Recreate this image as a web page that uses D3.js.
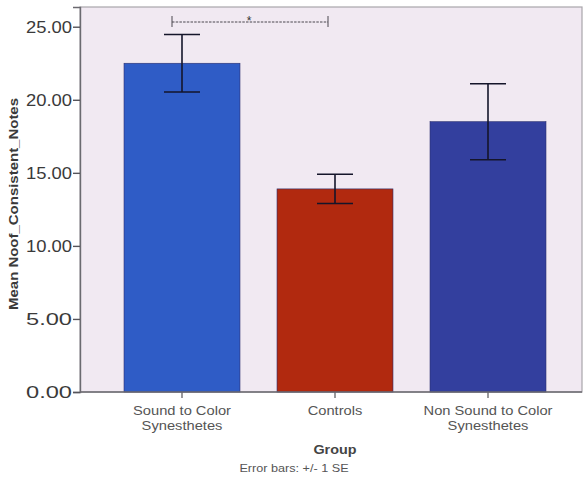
<!DOCTYPE html>
<html>
<head>
<meta charset="utf-8">
<script src="https://cdn.jsdelivr.net/npm/d3@7"></script>
<style>
  body { margin: 0; background: #fff; }
  svg text { font-family: Arial, "Liberation Sans", sans-serif; }
</style>
</head>
<body>
<div id="chart"></div>
<script>
// group means with +/- 1 SE
const groups = ["Sound to Color Synesthetes", "Controls", "Non Sound to Color Synesthetes"];
const means = [22.5, 13.9, 18.5];
const errors = [1.97, 1.0, 2.6];
const barColors = ["#2f5cc6", "#b1290f", "#333f9e"];
const yTicks = [0, 5, 10, 15, 20, 25];
// significance bracket between groups 0 and 1
const sigPair = [0, 1];
const sigLabel = "*";

const width = 583, height = 477;
const plot = {left: 80, right: 582, top: 7, bottom: 392};

const svg = d3.select("#chart").append("svg")
    .attr("width", width)
    .attr("height", height);

const x = d3.scaleBand()
    .domain(groups)
    .range([105.5, 564.5])
    .paddingInner(0.242)
    .paddingOuter(0.121);

const y = d3.scaleLinear()
    .domain([0, 26.35])
    .range([plot.bottom, plot.top]);

// plot background
svg.append("rect")
    .attr("x", plot.left)
    .attr("y", plot.top)
    .attr("width", plot.right - plot.left)
    .attr("height", plot.bottom - plot.top)
    .attr("fill", "#f1e9f2")
    .attr("stroke", "#a9a6ab")
    .attr("stroke-width", 1.2);

// bars
svg.append("g")
  .selectAll("rect")
  .data(groups)
  .join("rect")
    .attr("x", d => x(d))
    .attr("y", (d, i) => y(means[i]))
    .attr("width", x.bandwidth())
    .attr("height", (d, i) => y(0) - y(means[i]))
    .attr("fill", (d, i) => barColors[i])
    .attr("stroke", "#2a2f70")
    .attr("stroke-width", 0.6);

// error bars
const cap = 18;
const eb = svg.append("g")
    .attr("stroke", "#15152a")
    .attr("stroke-width", 1.6)
  .selectAll("g")
  .data(groups)
  .join("g")
    .attr("transform", d => `translate(${x(d) + x.bandwidth() / 2},0)`);

eb.append("line")
    .attr("y1", (d, i) => y(means[i] + errors[i]))
    .attr("y2", (d, i) => y(means[i] - errors[i]));
eb.append("line")
    .attr("x1", -cap).attr("x2", cap)
    .attr("y1", (d, i) => y(means[i] + errors[i]))
    .attr("y2", (d, i) => y(means[i] + errors[i]));
eb.append("line")
    .attr("x1", -cap).attr("x2", cap)
    .attr("y1", (d, i) => y(means[i] - errors[i]))
    .attr("y2", (d, i) => y(means[i] - errors[i]));

// significance bracket
const bx0 = x(groups[sigPair[0]]) + x.bandwidth() / 2 - 10;
const bx1 = x(groups[sigPair[1]]) + x.bandwidth() / 2 - 7;
const by = 22;
const br = svg.append("g").attr("stroke", "#4a474f").attr("stroke-width", 1);
br.append("line").attr("x1", bx0).attr("x2", bx1).attr("y1", by).attr("y2", by)
    .attr("stroke-dasharray", "2.5,1.2");
br.append("line").attr("x1", bx0).attr("x2", bx0).attr("y1", by - 6).attr("y2", by + 5);
br.append("line").attr("x1", bx1).attr("x2", bx1).attr("y1", by - 6).attr("y2", by + 5);
svg.append("text")
    .attr("x", (bx0 + bx1) / 2 - 1)
    .attr("y", by + 3)
    .attr("text-anchor", "middle")
    .attr("font-size", 12)
    .attr("fill", "#333")
    .text(sigLabel);

// y axis
const yAxis = svg.append("g")
    .attr("transform", `translate(${plot.left},0)`)
    .call(d3.axisLeft(y).tickValues(yTicks).tickFormat(d3.format(".2f")).tickSize(7).tickPadding(1));
yAxis.select(".domain").attr("stroke", "#6b6a70").attr("stroke-width", 1.4);
yAxis.selectAll(".tick line").attr("stroke", "#55545a").attr("stroke-width", 1.4);
yAxis.selectAll(".tick text")
    .attr("font-size", 16.5)
    .attr("fill", "#3a3a3a")
    .attr("font-family", "Arial, 'Liberation Sans', sans-serif")
    .attr("textLength", 46)
    .attr("lengthAdjust", "spacingAndGlyphs");

// x axis
const xAxis = svg.append("g")
    .attr("transform", `translate(0,${plot.bottom})`)
    .call(d3.axisBottom(x).tickSize(6).tickFormat(""));
xAxis.select(".domain").remove();
xAxis.selectAll(".tick line").attr("stroke", "#55545a").attr("stroke-width", 1.2);
svg.append("line")
    .attr("x1", plot.left).attr("x2", plot.right)
    .attr("y1", plot.bottom).attr("y2", plot.bottom)
    .attr("stroke", "#6b6a70").attr("stroke-width", 1.4);

// wrapped category labels
const labelLines = {
  "Sound to Color Synesthetes": ["Sound to Color", "Synesthetes"],
  "Controls": ["Controls"],
  "Non Sound to Color Synesthetes": ["Non Sound to Color", "Synesthetes"]
};
xAxis.selectAll(".tick").each(function(d) {
  const t = d3.select(this).append("text")
      .attr("y", 23)
      .attr("transform", "scale(1.13,1)")
      .attr("text-anchor", "middle")
      .attr("font-size", 13)
      .attr("fill", "#555");
  labelLines[d].forEach((s, k) => {
    t.append("tspan").attr("x", 0).attr("dy", k === 0 ? 0 : 15).text(s);
  });
});

// axis titles
svg.append("text")
    .attr("transform", `translate(${x(groups[1]) + x.bandwidth() / 2},454) scale(1.15,1)`)
    .attr("text-anchor", "middle")
    .attr("font-size", 12.5)
    .attr("font-weight", "bold")
    .attr("fill", "#444")
    .text("Group");

svg.append("text")
    .attr("transform", "translate(294,472) scale(1.15,1)")
    .attr("text-anchor", "middle")
    .attr("font-size", 11)
    .attr("fill", "#555")
    .text("Error bars: +/- 1 SE");

svg.append("text")
    .attr("transform", "translate(18,204) rotate(-90)")
    .attr("text-anchor", "middle")
    .attr("font-size", 12.5)
    .attr("font-weight", "bold")
    .attr("fill", "#3a3a3a")
    .attr("textLength", 212)
    .attr("lengthAdjust", "spacingAndGlyphs")
    .text("Mean Noof_Consistent_Notes");
</script>
</body>
</html>
